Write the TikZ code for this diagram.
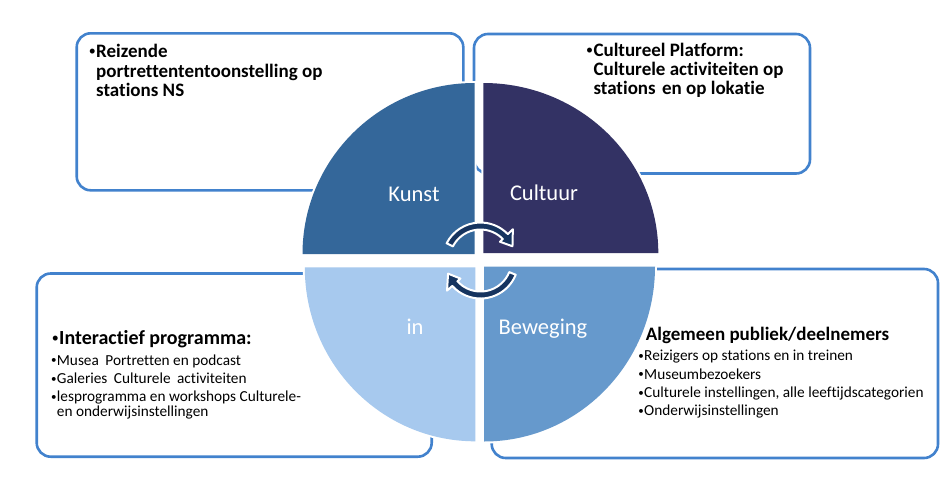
\documentclass[tikz,border=0pt]{standalone}
\usepackage{fontspec}
\setmainfont{Carlito}[Ligatures=NoCommon]
\usetikzlibrary{calc}
\definecolor{qa}{RGB}{52,103,154}
\definecolor{qb}{RGB}{51,50,100}
\definecolor{qc}{RGB}{167,201,238}
\definecolor{qd}{RGB}{102,153,204}
\definecolor{navy}{RGB}{22,52,95}
\definecolor{boxline}{RGB}{66,130,205}
\newcommand{\hbullet}{\raisebox{1.6pt}{\fontsize{14}{14}\selectfont •}\hspace{0.5pt}}
\newcommand{\sbullet}{\raisebox{1.2pt}{\fontsize{11}{11}\selectfont •}\hspace{0.6pt}}
\begin{document}
\begin{tikzpicture}[x=1pt,y=-1pt,
  box/.style={draw=boxline, line width=2.6pt, rounded corners=14pt},
  quad/.style={fill=#1, preaction={draw=white, line width=4pt}},
  arrowshape/.style={fill=navy, draw=white, line width=2pt, line join=round},
  lbl/.style={text=white, font=\fontsize{22.5}{22.5}\selectfont, anchor=base, inner sep=0pt},
  hd/.style={font=\fontsize{19}{19}\selectfont\bfseries, anchor=base west, inner sep=0pt},
  hbul/.style={anchor=base east, inner sep=0pt},
  hdl/.style={font=\fontsize{20}{20}\selectfont\bfseries, anchor=base west, inner sep=0pt},
  sb/.style={font=\fontsize{15.3}{15.3}\selectfont, anchor=base west, inner sep=0pt},
  sbul/.style={anchor=base east, inner sep=0pt},
]
\useasboundingbox (0,0) rectangle (940,499);
\fill[white] (0,0) rectangle (940,499);
% boxes
\draw[box] (76.7,33.3) rectangle (463.3,190.3);
\draw[box] (474,34) rectangle (810,173.5);
\draw[box] (36.7,273.5) rectangle (431.7,456.7);
\draw[box] (491.7,269) rectangle (938,458);
% quadrants
\path[quad=qa] (474.5,254) -- (302.5,254) arc[start angle=180, end angle=270, x radius=172, y radius=171] -- cycle;
\path[quad=qb] (483.3,253) -- (483.3,83) arc[start angle=270, end angle=360, x radius=175, y radius=170] -- cycle;
\path[quad=qd] (484,266.5) -- (655,266.5) arc[start angle=0, end angle=90, x radius=171, y radius=175] -- cycle;
\path[quad=qc] (475.3,267.3) -- (475.3,441.3) arc[start angle=90, end angle=180, x radius=170.5, y radius=174] -- cycle;
% cycle arrows
\coordinate (C) at (480.5,260.5);
\path[arrowshape] ($(C)+(207:38)$) arc[start angle=207, end angle=316, radius=38]
  -- ($(C)+(316:45)$) -- ($(C)+(336:35)$) -- ($(C)+(316:27)$) -- ($(C)+(316:31)$)
  arc[start angle=316, end angle=207, radius=31] -- cycle;
\path[arrowshape] ($(C)+(22:38)$) arc[start angle=22, end angle=138, radius=38]
  -- ($(C)+(138:45)$) -- ($(C)+(158:35)$) -- ($(C)+(138:27)$) -- ($(C)+(138:31)$)
  arc[start angle=138, end angle=22, radius=31] -- cycle;
% quadrant labels
\node[lbl] (kunst) at (414,201.8) {Kunst};
\node[lbl] (cultuur) at (544,200.7) {Cultuur};
\node[lbl] (in) at (415,334.3) {in};
\node[lbl] (beweging) at (543,334) {Beweging};
% top-left box text
\node[hbul] (b1) at (96,57.3) {\hbullet};
\node[hd] (t1a) at (96,57.3) {Reizende};
\node[hd] (t1b) at (96,77.3) {portrettententoonstelling op};
\node[hd] (t1c) at (96,96.5) {stations NS};
% top-right box text
\node[hbul] (b2) at (593.3,56.3) {\hbullet};
\node[hd] (t2a) at (593.3,56.3) {Cultureel Platform:};
\node[hd] (t2b) at (593.3,75.5) {Culturele activiteiten op};
\node[hd] (t2c) at (593.3,94.7) {stations\hspace{2pt} en op lokatie};
% bottom-left box text
\node[hbul] (b3) at (59,344) {\hbullet};
\node[hdl] (t3) at (59,344) {Interactief programma:};
\node[sbul] (b3a) at (56.7,365) {\sbullet};
\node[sb] (t3a) at (56.7,365) {Musea\hspace{3pt} Portretten en podcast};
\node[sbul] (b3b) at (56.7,383.3) {\sbullet};
\node[sb] (t3b) at (56.7,383.3) {Galeries\hspace{3pt} Culturele\hspace{3pt} activiteiten};
\node[sbul] (b3c) at (56.7,401.3) {\sbullet};
\node[sb] (t3c) at (56.7,401.3) {lesprogramma en workshops Culturele-};
\node[sb] (t3d) at (56.7,416.7) {en onderwijsinstellingen};
% bottom-right box text
\node[hd] (t4) at (645.7,340.7) {Algemeen publiek/deelnemers};
\node[sbul] (b4a) at (644,360.7) {\sbullet};
\node[sb] (t4a) at (644,360.7) {Reizigers op stations en in treinen};
\node[sbul] (b4b) at (644,379) {\sbullet};
\node[sb] (t4b) at (644,379) {Museumbezoekers};
\node[sbul] (b4c) at (644,397.3) {\sbullet};
\node[sb] (t4c) at (644,397.3) {Culturele instellingen, alle leeftijdscategorien};
\node[sbul] (b4d) at (644,415.7) {\sbullet};
\node[sb] (t4d) at (644,415.7) {Onderwijsinstellingen};
\end{tikzpicture}
\end{document}
